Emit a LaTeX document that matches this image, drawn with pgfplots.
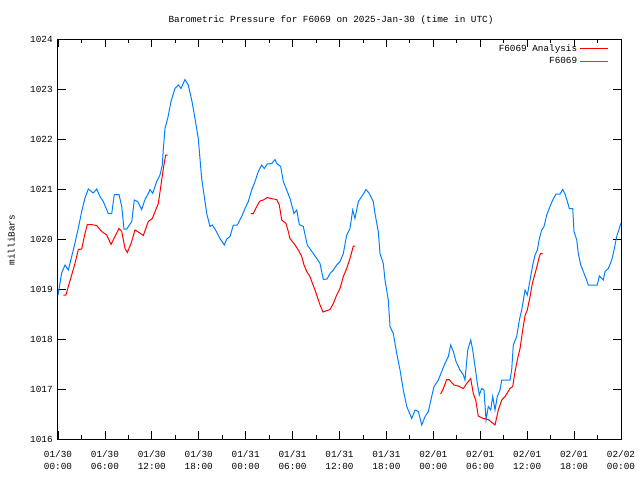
\documentclass[border=0pt]{standalone}
\usepackage{pgfplots}
\pgfplotsset{compat=1.18}
\usepackage{fontspec}
\setmainfont{Liberation Mono}
\setmonofont{Liberation Mono}
\definecolor{gred}{RGB}{255,0,0}
\definecolor{gblue}{RGB}{0,128,255}
\begin{document}
\fontsize{7}{8.5}\selectfont
\begin{tikzpicture}
\path (0pt,0pt) rectangle (480pt,360pt);
\node[font=\fontsize{7}{8.5}\selectfont] at (248.25pt,345pt) {Barometric Pressure for F6069 on 2025-Jan-30 (time in UTC)};
\node[font=\fontsize{7}{8.5}\selectfont, rotate=90] at (8.5pt,180pt) {milliBars};
\begin{axis}[
  at={(43.5pt,30.75pt)}, anchor=south west,
  scale only axis, width=422.25pt, height=300pt,
  xmin=0, xmax=72, ymin=1016, ymax=1024,
  xtick={0,6,...,72},
  minor xtick={3,9,...,69},
  ytick={1016,1017,...,1024},
  xticklabels={{01/30\\00:00},{01/30\\06:00},{01/30\\12:00},{01/30\\18:00},{01/31\\00:00},{01/31\\06:00},{01/31\\12:00},{01/31\\18:00},{02/01\\00:00},{02/01\\06:00},{02/01\\12:00},{02/01\\18:00},{02/02\\00:00}},
  xticklabel style={align=center, font=\fontsize{7}{9}\selectfont, yshift=-6.5pt},
  yticklabel style={font=\fontsize{7}{8.5}\selectfont, xshift=-1.5pt},
  /pgf/number format/assume math mode=true,
  /pgf/number format/1000 sep={},
  tick align=inside,
  major tick length=6pt, minor tick length=3pt,
  tick style={black, line width=0.6pt},
  axis line style={black, line width=0.75pt},
  legend style={draw=none, fill=none, at={(0.986,1.0)}, anchor=north east, font=\fontsize{7}{8.5}\selectfont, row sep=-0.3pt},
  legend cell align=right,
  legend plot pos=right,
  legend image code/.code={\draw[#1] (0pt,0pt) -- (21pt,0pt);},
]
\addplot[gred, line width=0.75pt] coordinates {
(0.68,1018.88) (1.02,1018.88) (1.32,1019.05) (1.75,1019.28) (2.17,1019.51) (2.6,1019.79) (3.03,1019.8) (3.45,1020.11) (3.75,1020.29) (4.22,1020.29) (4.95,1020.27) (5.59,1020.15) (6.23,1020.08) (6.78,1019.89) (7.29,1020.05) (7.8,1020.21) (8.15,1020.15) (8.57,1019.81) (8.86,1019.73) (9.34,1019.91) (9.85,1020.18) (10.36,1020.13) (10.91,1020.07) (11.55,1020.35) (12.06,1020.41) (12.41,1020.55) (12.83,1020.71) (13.17,1021.08) (13.47,1021.41) (13.77,1021.68) (14.03,1021.68)
};
\addlegendentry{F6069 Analysis}
\addplot[gblue, line width=0.75pt] coordinates {
(0.0,1018.88) (0.47,1019.32) (0.9,1019.48) (1.32,1019.38) (1.75,1019.65) (2.17,1019.92) (2.6,1020.22) (3.03,1020.55) (3.45,1020.82) (3.88,1021.0) (4.51,1020.92) (4.95,1021.0) (5.37,1020.85) (5.79,1020.75) (6.43,1020.51) (6.87,1020.51) (7.2,1020.89) (7.8,1020.89) (8.15,1020.65) (8.44,1020.2) (8.79,1020.2) (9.43,1020.35) (9.76,1020.78) (10.19,1020.75) (10.7,1020.59) (11.13,1020.79) (11.55,1020.91) (11.77,1020.99) (12.11,1020.91) (12.62,1021.15) (13.04,1021.28) (13.34,1021.48) (13.47,1021.8) (13.68,1022.21) (14.03,1022.41) (14.45,1022.75) (14.96,1023.01) (15.39,1023.08) (15.73,1023.01) (16.24,1023.19) (16.66,1023.08) (17.1,1022.78) (17.52,1022.41) (17.94,1022.01) (18.38,1021.2) (18.8,1020.75) (19.02,1020.51) (19.44,1020.25) (19.73,1020.28) (20.08,1020.2) (20.72,1020.01) (21.27,1019.88) (21.58,1020.0) (22.0,1020.05) (22.42,1020.28) (22.93,1020.28) (23.49,1020.45) (23.92,1020.61) (24.34,1020.75) (24.77,1020.98) (25.2,1021.15) (25.62,1021.35) (26.05,1021.48) (26.38,1021.41) (26.77,1021.5) (27.33,1021.51) (27.75,1021.59) (27.97,1021.51) (28.48,1021.45) (28.81,1021.15) (29.25,1020.98) (29.67,1020.81) (30.18,1020.51) (30.53,1020.58) (30.86,1020.29) (31.37,1020.25) (31.88,1019.88) (32.65,1019.71) (33.09,1019.61) (33.51,1019.51) (33.93,1019.19) (34.4,1019.2) (34.79,1019.31) (35.21,1019.38) (35.64,1019.48) (36.07,1019.55) (36.49,1019.71) (36.92,1020.08) (37.34,1020.21) (37.69,1020.58) (37.98,1020.41) (38.41,1020.75) (38.97,1020.88) (39.39,1020.99) (39.81,1020.91) (40.32,1020.75) (40.54,1020.51) (40.96,1020.15) (41.18,1019.71) (41.6,1019.51) (41.82,1019.18) (42.24,1018.78) (42.46,1018.25) (42.88,1018.11) (43.32,1017.71) (43.74,1017.38) (44.16,1016.98) (44.6,1016.65) (45.24,1016.41) (45.66,1016.58) (46.08,1016.55) (46.52,1016.28) (46.94,1016.45) (47.36,1016.55) (47.79,1016.85) (48.09,1017.05) (48.64,1017.18) (49.07,1017.35) (49.49,1017.51) (49.92,1017.65) (50.22,1017.88) (50.56,1017.75) (50.9,1017.55) (51.41,1017.38) (51.84,1017.28) (52.05,1017.18) (52.4,1017.78) (52.78,1017.98) (53.04,1017.78) (53.33,1017.45) (53.63,1017.11) (53.88,1016.88) (54.19,1017.01) (54.48,1016.98) (54.74,1016.38) (55.03,1016.65) (55.34,1016.58) (55.59,1016.85) (55.89,1016.58) (56.18,1016.85) (56.53,1016.98) (56.75,1017.18) (57.81,1017.18) (58.02,1017.38) (58.23,1017.88) (58.66,1018.05) (59.0,1018.38) (59.3,1018.58) (59.73,1018.98) (60.02,1018.88) (60.37,1019.18) (60.71,1019.48) (61.01,1019.68) (61.3,1019.78) (61.56,1020.01) (61.86,1020.18) (62.16,1020.25) (62.5,1020.48) (62.92,1020.65) (63.27,1020.78) (63.69,1020.9) (64.2,1020.9) (64.55,1020.99) (64.84,1020.9) (65.14,1020.75) (65.39,1020.61) (65.83,1020.61) (65.99,1020.15) (66.34,1019.98) (66.54,1019.71) (66.85,1019.48) (67.18,1019.35) (67.53,1019.21) (67.82,1019.08) (68.97,1019.08) (69.23,1019.26) (69.74,1019.18) (69.96,1019.35) (70.38,1019.41) (70.81,1019.58) (71.11,1019.78) (71.45,1020.05) (71.66,1020.15) (71.97,1020.31)
};
\addlegendentry{F6069}
\addplot[gred, line width=0.75pt, forget plot] coordinates {
(24.68,1020.51) (24.98,1020.51) (25.41,1020.65) (25.83,1020.76) (26.26,1020.78) (26.77,1020.83) (27.2,1020.81) (27.97,1020.79) (28.3,1020.68) (28.61,1020.38) (29.16,1020.31) (29.45,1020.15) (29.67,1020.01) (30.31,1019.88) (30.73,1019.78) (31.17,1019.65) (31.46,1019.48) (31.81,1019.35) (32.23,1019.25) (32.45,1019.15) (32.87,1018.98) (33.51,1018.68) (33.89,1018.54) (34.79,1018.59) (35.21,1018.71) (35.64,1018.88) (36.07,1019.01) (36.49,1019.25) (36.92,1019.41) (37.34,1019.61) (37.77,1019.86) (38.02,1019.86)
};
\addplot[gred, line width=0.75pt, forget plot] coordinates {
(48.94,1016.9) (49.28,1017.01) (49.71,1017.19) (50.0,1017.19) (50.64,1017.08) (51.19,1017.06) (51.84,1017.01) (52.27,1017.11) (52.78,1017.21) (53.11,1016.91) (53.42,1016.78) (53.75,1016.46) (54.39,1016.41) (55.03,1016.39) (55.89,1016.28) (56.31,1016.58) (56.75,1016.78) (57.17,1016.85) (57.81,1017.01) (58.15,1017.05) (58.45,1017.35) (58.74,1017.58) (59.09,1017.81) (59.43,1018.18) (59.73,1018.47) (60.02,1018.58) (60.37,1018.85) (60.66,1019.11) (61.01,1019.31) (61.3,1019.48) (61.56,1019.65) (61.73,1019.71) (61.99,1019.71)
};
\end{axis}
\end{tikzpicture}
\end{document}
